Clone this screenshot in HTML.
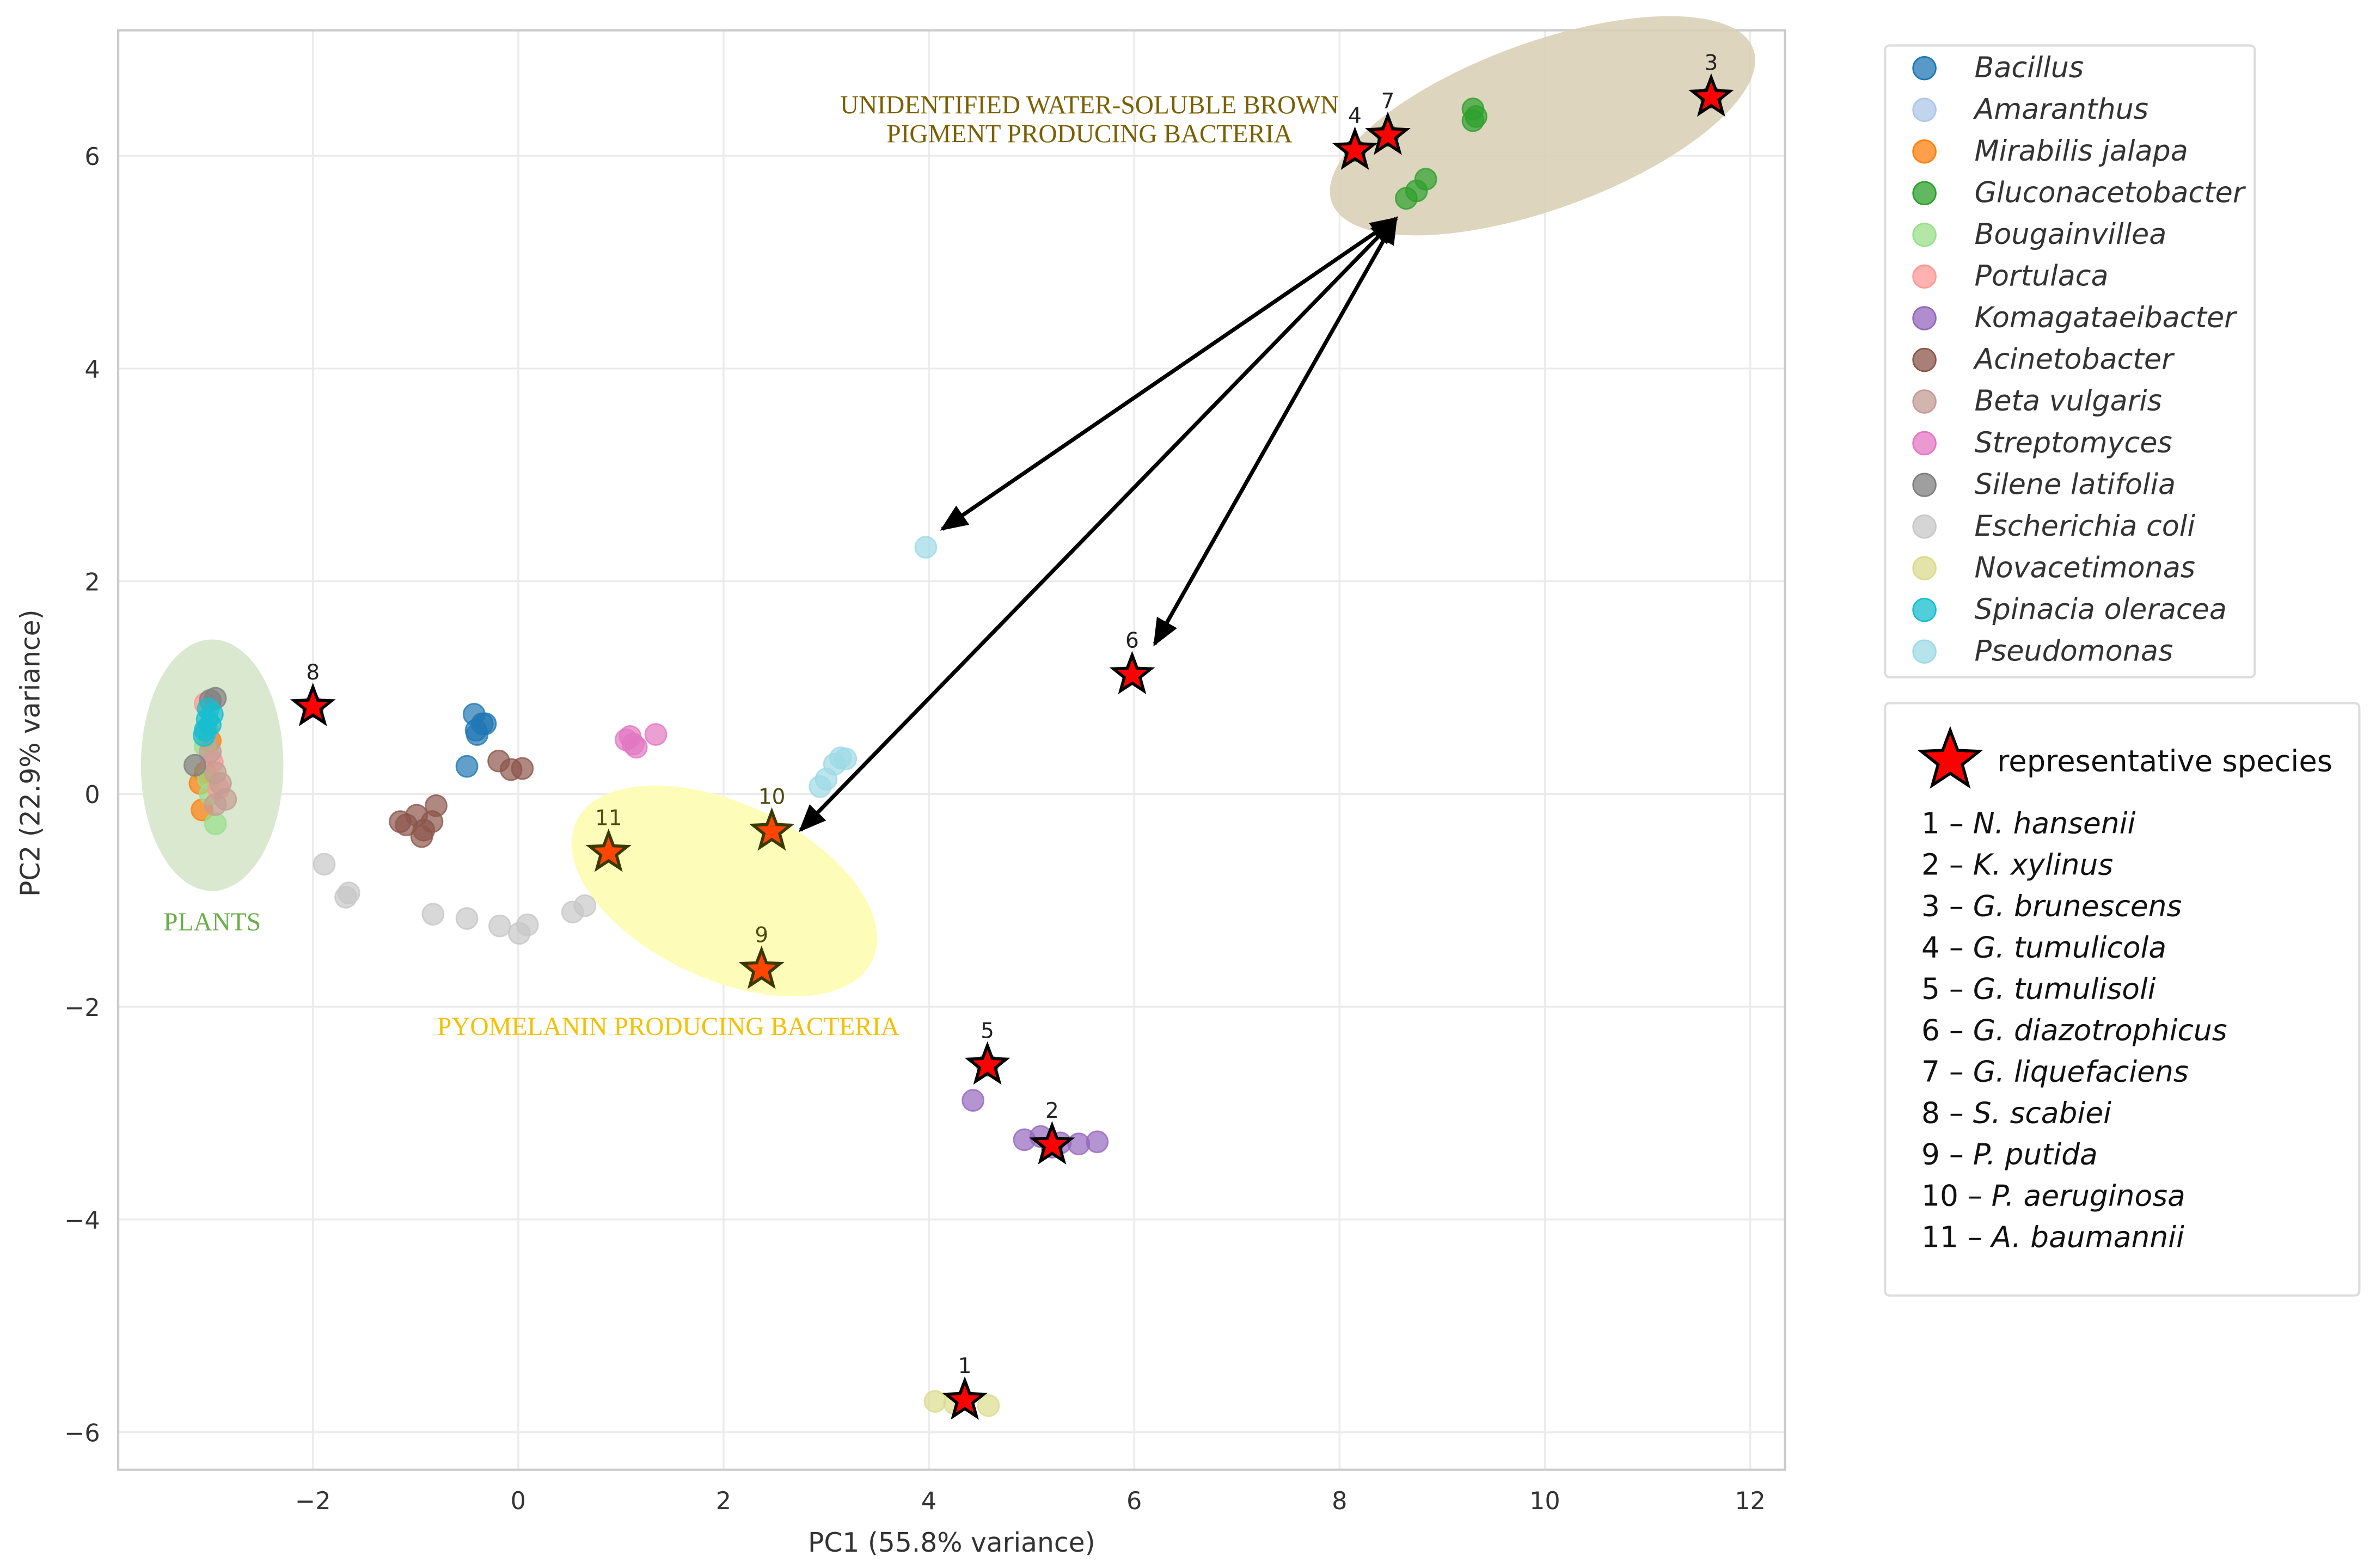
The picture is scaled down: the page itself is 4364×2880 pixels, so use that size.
<!DOCTYPE html>
<html><head><meta charset="utf-8"><style>
html,body{margin:0;padding:0;background:#fff;}
svg{display:block;}
text{font-family:"DejaVu Sans","Liberation Sans",sans-serif;}
.serif{font-family:"Liberation Serif",serif;}
</style></head><body>
<svg id="chart" width="4364" height="2880" viewBox="0 0 1568 1034.8" xmlns="http://www.w3.org/2000/svg">
<rect x="0" y="0" width="1568" height="1035" fill="#fff"/>
<g id="grid"></g>
<g id="shapes">
<ellipse cx="140" cy="505" rx="47" ry="83" fill="#dbe8d0"/>
<ellipse cx="478" cy="588" rx="108" ry="58" transform="rotate(25 478 588)" fill="#fdfdb9"/>
</g>
<rect x="78" y="20" width="1100" height="950" fill="none" stroke="#ccc" stroke-width="1.5"/>
<ellipse cx="1018" cy="83" rx="148" ry="55" transform="rotate(-20 1018 83)" fill="#d9cfb6" opacity="0.88"/>
<g id="points"></g>
<g id="arrows"></g>
<g id="stars"></g>
<g id="axes"></g>
<text class="serif" x="719" y="75" font-size="17" fill="#7a6000" text-anchor="middle">UNIDENTIFIED WATER-SOLUBLE BROWN</text>
<text class="serif" x="719" y="94" font-size="17" fill="#7a6000" text-anchor="middle">PIGMENT PRODUCING BACTERIA</text>
<text class="serif" x="140" y="614" font-size="17" fill="#6aae4a" text-anchor="middle">PLANTS</text>
<text class="serif" x="441" y="683" font-size="17" fill="#f5c000" text-anchor="middle">PYOMELANIN PRODUCING BACTERIA</text>
<g id="legend1"></g>
<g id="legend2"></g>
</svg>
<script>
const xTicks=[-2,0,2,4,6,8,10,12];
const yTicks=[-6,-4,-2,0,2,4,6];
const speciesNames=["Bacillus","Amaranthus","Mirabilis jalapa","Gluconacetobacter","Bougainvillea","Portulaca","Komagataeibacter","Acinetobacter","Beta vulgaris","Streptomyces","Silene latifolia","Escherichia coli","Novacetimonas","Spinacia oleracea","Pseudomonas"];
const speciesColors=["#1f77b4","#aec7e8","#ff7f0e","#2ca02c","#98df8a","#ff9896","#9467bd","#8c564b","#c49c94","#e377c2","#7f7f7f","#c7c7c7","#dbdb8d","#17becf","#9edae5"];
const bacillusX=[-0.43,-0.35,-0.4,-0.32,-0.5,-0.41];
const bacillusY=[0.75,0.66,0.56,0.66,0.26,0.6];
const amaranthusX=[-3.0,-3.02];
const amaranthusY=[0.35,0.5];
const mirabilisX=[-3.05,-3.08,-3.0,-3.1];
const mirabilisY=[0.2,-0.15,0.5,0.1];
const glucoX=[9.3,9.3,9.33,8.65,8.75,8.84,11.62,8.15,8.47,4.57];
const glucoY=[6.44,6.33,6.37,5.6,5.67,5.78,6.55,6.05,6.19,-2.55];
const bougX=[-3.05,-3.0,-2.95,-3.02];
const bougY=[0.45,0.0,-0.28,0.15];
const portX=[-3.05,-2.98,-2.92];
const portY=[0.85,0.3,0.05];
const komaX=[4.43,4.93,5.09,5.28,5.46,5.64,5.2];
const komaY=[-2.88,-3.25,-3.22,-3.28,-3.29,-3.27,-3.32];
const acinX=[-0.19,-0.07,0.04,-1.15,-1.09,-0.99,-0.92,-0.84,-0.80,-0.94];
const acinY=[0.31,0.23,0.24,-0.26,-0.29,-0.2,-0.34,-0.26,-0.11,-0.4];
const betaX=[-3.0,-2.95,-2.9,-2.85,-2.95,-3.03];
const betaY=[0.4,0.2,0.1,-0.05,-0.1,0.6];
const streptoX=[1.05,1.12,1.15,1.09,1.34,-2.0];
const streptoY=[0.51,0.47,0.44,0.54,0.56,0.82];
const sileneX=[-3.0,-2.95,-3.15];
const sileneY=[0.88,0.9,0.27];
const ecoliX=[-1.89,-1.68,-1.65,-0.83,-0.5,-0.18,0.01,0.09,0.53,0.65];
const ecoliY=[-0.66,-0.97,-0.93,-1.13,-1.17,-1.24,-1.31,-1.23,-1.11,-1.05];
const novaX=[4.06,4.25,4.58];
const novaY=[-5.71,-5.73,-5.75];
const spinX=[-3.02,-3.03,-3.05,-3.06,-3.0,-2.98];
const spinY=[0.8,0.7,0.6,0.55,0.65,0.75];
const pseudoX=[3.97,2.94,3.0,3.08,3.14,3.19];
const pseudoY=[2.32,0.07,0.14,0.28,0.34,0.33];
const starLabels=["1","2","3","4","5","6","7","8","9","10","11"];
const starX=[4.35,5.2,11.62,8.15,4.57,5.98,8.47,-2.0,2.37,2.47,0.88];
const starY=[-5.7,-3.3,6.55,6.05,-2.55,1.12,6.19,0.82,-1.65,-0.35,-0.55];
const repNames=["N. hansenii","K. xylinus","G. brunescens","G. tumulicola","G. tumulisoli","G. diazotrophicus","G. liquefaciens","S. scabiei","P. putida","P. aeruginosa","A. baumannii"];
const arrowFrom=[[8.55,5.41],[8.55,5.41],[8.55,5.41]];
const arrowTo=[[4.13,2.49],[2.75,-0.34],[6.2,1.41]];

const NS="http://www.w3.org/2000/svg";
function sx(v){return 342+67.75*v;}
function sy(v){return 524-70.2*v;}
function mk(tag,attrs,parent){const e=document.createElementNS(NS,tag);for(const k in attrs)e.setAttribute(k,attrs[k]);parent.appendChild(e);return e;}
const grid=document.getElementById('grid'),axes=document.getElementById('axes');
xTicks.forEach(t=>{
 const l=mk('line',{x1:sx(t),x2:sx(t),y1:20,y2:970,stroke:'#ebebeb','stroke-width':1.2},grid);
 
 
 const tx=mk('text',{x:sx(t),y:996,'font-size':16,fill:'#333','text-anchor':'middle'},axes);
 tx.textContent=(t<0?'\u2212'+(-t):t);
 
 
});
yTicks.forEach(t=>{
 const l=mk('line',{x1:78,x2:1178,y1:sy(t),y2:sy(t),stroke:'#ebebeb','stroke-width':1.2},grid);
 
 
 const tx=mk('text',{x:66,y:sy(t)+6,'font-size':16,fill:'#333','text-anchor':'end'},axes);
 tx.textContent=(t<0?'\u2212'+(-t):t);
 
 
});
let xl=mk('text',{x:628,y:1024,'font-size':17.5,fill:'#333','text-anchor':'middle'},axes);
xl.textContent='PC1 (55.8% variance)';


let yl=mk('text',{x:26,y:497,'font-size':17.5,fill:'#333','text-anchor':'middle',transform:'rotate(-90 26 497)'},axes);
yl.textContent='PC2 (22.9% variance)';



const seriesX=[bacillusX,amaranthusX,mirabilisX,glucoX,bougX,portX,komaX,acinX,betaX,streptoX,sileneX,ecoliX,novaX,spinX,pseudoX];
const seriesY=[bacillusY,amaranthusY,mirabilisY,glucoY,bougY,portY,komaY,acinY,betaY,streptoY,sileneY,ecoliY,novaY,spinY,pseudoY];
const pts=document.getElementById('points');
seriesX.forEach((xs,i)=>{xs.forEach((x,j)=>{
 const c=mk('circle',{cx:sx(x),cy:sy(seriesY[i][j]),r:7,fill:speciesColors[i],'fill-opacity':0.7,stroke:speciesColors[i],'stroke-opacity':0.8,'stroke-width':1},pts);
 
 
});});

const ar=document.getElementById('arrows');
mk('defs',{},ar).innerHTML='<marker id="ah" viewBox="0 0 10 10" refX="9" refY="5" markerWidth="7" markerHeight="7" orient="auto-start-reverse"><path d="M0,0.8 L10,5 L0,9.2 z" fill="#000"/></marker>';
arrowFrom.forEach((f,i)=>{
 const l=mk('line',{x1:sx(f[0]),y1:sy(f[1]),x2:sx(arrowTo[i][0]),y2:sy(arrowTo[i][1]),stroke:'#000','stroke-width':2.6,'marker-start':'url(#ah)','marker-end':'url(#ah)'},ar);
 
 
});

function starPath(cx,cy,R){const r=R*0.42;let d='';for(let k=0;k<10;k++){const a=-Math.PI/2+k*Math.PI/5;const rr=k%2?r:R;d+=(k?'L':'M')+(cx+rr*Math.cos(a)).toFixed(2)+','+(cy+rr*Math.sin(a)).toFixed(2);}return d+'Z';}
const st=document.getElementById('stars');
starX.forEach((x,i)=>{
 const special=i>=8;
 const p=mk('path',{d:starPath(sx(x),sy(starY[i]),13),fill:special?'#ff4500':'#ff0000',stroke:special?'#3a3a00':'#000','stroke-width':2,'stroke-linejoin':'miter'},st);
 
 
 const t=mk('text',{x:sx(x),y:sy(starY[i])-18,'font-size':14,fill:special?'#4a4a10':'#222','text-anchor':'middle'},st);
 t.textContent=starLabels[i];
 
 
});

const lg=document.getElementById('legend1');
const b1=mk('rect',{x:1244,y:30,width:244,height:417,fill:'#fff',stroke:'#ddd','stroke-width':1.5,rx:3},lg);


speciesNames.forEach((n,i)=>{
 const y=45+27.5*i;
 const c=mk('circle',{cx:1270,cy:y,r:7.5,fill:speciesColors[i],'fill-opacity':0.75,stroke:speciesColors[i],'stroke-width':1},lg);
 
 
 const t=mk('text',{x:1303,y:y+6,'font-size':18.8,'font-style':'italic',fill:'#333'},lg);
 t.textContent=n;
 
 
});
const lg2=document.getElementById('legend2');
const b2=mk('rect',{x:1244,y:464,width:313,height:391,fill:'#fff',stroke:'#ddd','stroke-width':1.5,rx:3},lg2);


const ls=mk('path',{d:starPath(1287,502,20),fill:'#ff0000',stroke:'#000','stroke-width':2},lg2);


const lt=mk('text',{x:1318,y:509,'font-size':19.5,fill:'#111'},lg2);
lt.textContent='representative species';


repNames.forEach((n,i)=>{
 const t=mk('text',{x:1268,y:550+27.3*i,'font-size':19.2,fill:'#111'},lg2);
 t.innerHTML=starLabels[i]+' \u2013 <tspan font-style="italic">'+n+'</tspan>';
 
 
});
</script>
</body></html>
